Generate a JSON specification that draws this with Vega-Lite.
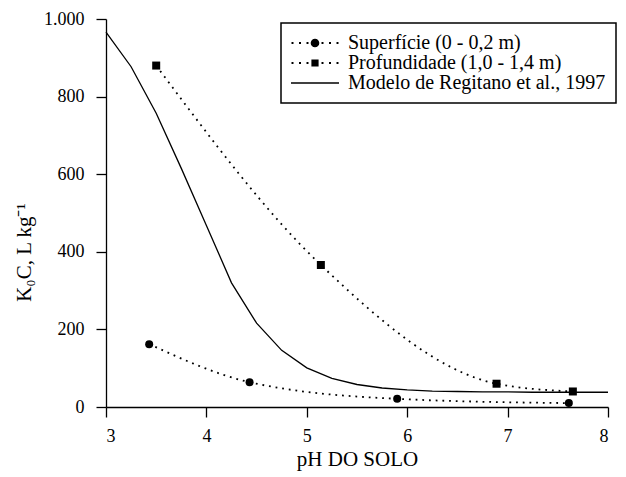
{
  "$schema": "https://vega.github.io/schema/vega-lite/v6.json",
  "width": 502,
  "height": 388,
  "autosize": {"type": "none"},
  "padding": {"left": 106, "top": 19, "right": 18, "bottom": 70},
  "background": "white",
  "config": {
    "view": {"stroke": null},
    "font": "Liberation Serif",
    "legend": {"strokeWidth": 1.5},
    "axis": {
      "grid": false,
      "domainColor": "black",
      "domainWidth": 1.3,
      "tickColor": "black",
      "tickWidth": 1.3,
      "tickSize": 10,
      "labelFont": "Liberation Serif",
      "labelFontSize": 18,
      "labelColor": "black",
      "titleFont": "Liberation Serif",
      "titleFontSize": 21,
      "titleFontWeight": "normal",
      "titleColor": "black"
    }
  },
  "datasets": {
    "obs": [
      {"serie": "Superfície (0 - 0,2 m)", "ph": 3.43, "k": 162},
      {"serie": "Superfície (0 - 0,2 m)", "ph": 4.43, "k": 64},
      {"serie": "Superfície (0 - 0,2 m)", "ph": 5.9, "k": 21},
      {"serie": "Superfície (0 - 0,2 m)", "ph": 7.61, "k": 10},
      {"serie": "Profundidade (1,0 - 1,4 m)", "ph": 3.5, "k": 880},
      {"serie": "Profundidade (1,0 - 1,4 m)", "ph": 5.14, "k": 366},
      {"serie": "Profundidade (1,0 - 1,4 m)", "ph": 6.89, "k": 60},
      {"serie": "Profundidade (1,0 - 1,4 m)", "ph": 7.65, "k": 40}
    ],
    "modelo": [
      {"serie": "Modelo de Regitano et al., 1997", "ph": 3.0, "k": 966},
      {"serie": "Modelo de Regitano et al., 1997", "ph": 3.25, "k": 877},
      {"serie": "Modelo de Regitano et al., 1997", "ph": 3.5, "k": 757},
      {"serie": "Modelo de Regitano et al., 1997", "ph": 3.75, "k": 615},
      {"serie": "Modelo de Regitano et al., 1997", "ph": 4.0, "k": 468},
      {"serie": "Modelo de Regitano et al., 1997", "ph": 4.25, "k": 320},
      {"serie": "Modelo de Regitano et al., 1997", "ph": 4.5, "k": 216},
      {"serie": "Modelo de Regitano et al., 1997", "ph": 4.75, "k": 146},
      {"serie": "Modelo de Regitano et al., 1997", "ph": 5.0, "k": 101},
      {"serie": "Modelo de Regitano et al., 1997", "ph": 5.25, "k": 74},
      {"serie": "Modelo de Regitano et al., 1997", "ph": 5.5, "k": 58},
      {"serie": "Modelo de Regitano et al., 1997", "ph": 5.75, "k": 49},
      {"serie": "Modelo de Regitano et al., 1997", "ph": 6.0, "k": 44},
      {"serie": "Modelo de Regitano et al., 1997", "ph": 6.25, "k": 41},
      {"serie": "Modelo de Regitano et al., 1997", "ph": 6.5, "k": 40},
      {"serie": "Modelo de Regitano et al., 1997", "ph": 6.75, "k": 39},
      {"serie": "Modelo de Regitano et al., 1997", "ph": 7.0, "k": 39},
      {"serie": "Modelo de Regitano et al., 1997", "ph": 7.25, "k": 38},
      {"serie": "Modelo de Regitano et al., 1997", "ph": 7.5, "k": 38},
      {"serie": "Modelo de Regitano et al., 1997", "ph": 7.75, "k": 38},
      {"serie": "Modelo de Regitano et al., 1997", "ph": 8.0, "k": 38}
    ]
  },
  "encoding": {
    "x": {
      "field": "ph", "type": "quantitative",
      "scale": {"domain": [3, 8], "nice": false},
      "axis": {"title": "pH DO SOLO", "values": [3, 4, 5, 6, 7, 8], "labelPadding": 10, "titlePadding": 3}
    },
    "y": {
      "field": "k", "type": "quantitative",
      "scale": {"domain": [0, 1000], "nice": false},
      "axis": {
        "title": "K₀C, L kg⁻¹",
        "values": [0, 200, 400, 600, 800, 1000],
        "labelExpr": "datum.value == 1000 ? '1.000' : datum.label",
        "labelPadding": 12,
        "titleX": -76,
        "titleY": 233,
        "titleBaseline": "alphabetic",
        "titleAngle": -90,
        "titleAlign": "center"
      }
    }
  },
  "layer": [
    {
      "data": {"name": "obs"},
      "mark": {"type": "line", "interpolate": "monotone", "color": "black", "strokeWidth": 1.8, "strokeCap": "butt", "strokeDash": [1.8, 4.9]},
      "encoding": {"detail": {"field": "serie"}}
    },
    {
      "data": {"name": "modelo"},
      "mark": {"type": "line", "interpolate": "linear", "color": "black", "strokeWidth": 1.3},
      "encoding": {}
    },
    {
      "data": {"name": "obs"},
      "mark": {"type": "point", "filled": true, "color": "black", "opacity": 1},
      "encoding": {
        "shape": {
          "field": "serie", "type": "nominal",
          "scale": {"domain": ["Superfície (0 - 0,2 m)", "Profundidade (1,0 - 1,4 m)"], "range": ["circle", "square"]},
          "legend": null
        },
        "size": {"value": 64}
      }
    },
    {
      "data": {"name": "obs"},
      "mark": {"type": "point", "filled": true, "color": "black", "opacity": 0},
      "encoding": {
        "shape": {
          "field": "serie", "type": "nominal",
          "scale": {
            "domain": ["Superfície (0 - 0,2 m)", "Profundidade (1,0 - 1,4 m)", "Modelo de Regitano et al., 1997"],
            "range": [
              "M -0.979 -0.042 h 0.083 v 0.083 h -0.083 Z M -0.667 -0.042 h 0.083 v 0.083 h -0.083 Z M -0.354 -0.042 h 0.083 v 0.083 h -0.083 Z M 0.271 -0.042 h 0.083 v 0.083 h -0.083 Z M 0.583 -0.042 h 0.083 v 0.083 h -0.083 Z M 0.896 -0.042 h 0.083 v 0.083 h -0.083 Z M -0.18 0 A 0.18 0.18 0 1 0 0.18 0 A 0.18 0.18 0 1 0 -0.18 0 Z",
              "M -0.979 -0.042 h 0.083 v 0.083 h -0.083 Z M -0.667 -0.042 h 0.083 v 0.083 h -0.083 Z M -0.354 -0.042 h 0.083 v 0.083 h -0.083 Z M 0.271 -0.042 h 0.083 v 0.083 h -0.083 Z M 0.583 -0.042 h 0.083 v 0.083 h -0.083 Z M 0.896 -0.042 h 0.083 v 0.083 h -0.083 Z M -0.15 -0.15 h 0.3 v 0.3 h -0.3 Z",
              "M -1 -0.028 h 2 v 0.056 h -2 Z"
            ]
          },
          "legend": {
            "title": null,
            "orient": "none",
            "legendX": 175,
            "legendY": 4,
            "padding": 10,
            "fillColor": "white",
            "strokeColor": "black",
            "symbolSize": 2304,
            "symbolOpacity": 1,
            "symbolFillColor": "black",
            "symbolStrokeColor": "transparent",
            "symbolStrokeWidth": 0,
            "clipHeight": 20,
            "labelOffset": 9,
            "labelFont": "Liberation Serif",
            "labelFontSize": 20,
            "labelColor": "black",
            "labelLimit": 0,
            "rowPadding": 0
          }
        },
        "size": {"value": 2304}
      }
    }
  ],
  "resolve": {"scale": {"shape": "independent"}, "legend": {"shape": "independent"}}
}
